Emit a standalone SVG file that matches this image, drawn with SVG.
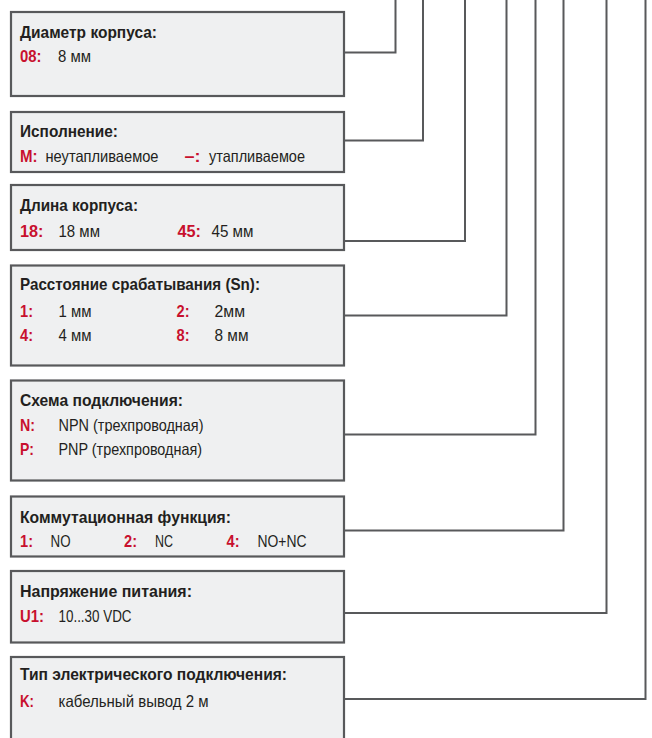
<svg xmlns="http://www.w3.org/2000/svg" width="652" height="738" viewBox="0 0 652 738">
<style>
.box{fill:#eff0f1;stroke:#58595b;stroke-width:2.2}
.con{fill:none;stroke:#58595b;stroke-width:2}
text{font-family:"Liberation Sans",Arial,sans-serif;font-size:16.5px}
.t{font-weight:bold;fill:#231f20}
.k{font-weight:bold;fill:#c8102e}
.v{fill:#231f20}
</style>
<rect width="652" height="738" fill="#ffffff"/>
<g id="connectors">
<polyline class="con" points="344,52.5 395.5,52.5 395.5,0"/>
<polyline class="con" points="344,140.5 423,140.5 423,0"/>
<polyline class="con" points="344,241 465,241 465,0"/>
<polyline class="con" points="344,315.5 506.5,315.5 506.5,0"/>
<polyline class="con" points="344,434.5 535.5,434.5 535.5,0"/>
<polyline class="con" points="344,530.5 563.5,530.5 563.5,0"/>
<polyline class="con" points="344,613 606.5,613 606.5,0"/>
<polyline class="con" points="344,699 645.5,699 645.5,0"/>
</g>
<g id="diameter">
<rect class="box" x="11" y="12" width="333" height="84"/>
<text class="t" x="20" y="37.5" textLength="137" lengthAdjust="spacingAndGlyphs">Диаметр корпуса:</text>
<text class="k" x="20" y="61.5" textLength="21.5" lengthAdjust="spacingAndGlyphs">08:</text>
<text class="v" x="58" y="61.5" textLength="33" lengthAdjust="spacingAndGlyphs">8 мм</text>
</g>
<g id="design">
<rect class="box" x="11" y="112" width="333" height="60"/>
<text class="t" x="20" y="136.5" textLength="98" lengthAdjust="spacingAndGlyphs">Исполнение:</text>
<text class="k" x="20" y="161.5" textLength="17.5" lengthAdjust="spacingAndGlyphs">M:</text>
<text class="v" x="45.5" y="161.5" textLength="113" lengthAdjust="spacingAndGlyphs">неутапливаемое</text>
<text class="k" x="184.5" y="161.5" textLength="16" lengthAdjust="spacingAndGlyphs">–:</text>
<text class="v" x="209" y="161.5" textLength="96" lengthAdjust="spacingAndGlyphs">утапливаемое</text>
</g>
<g id="length">
<rect class="box" x="11" y="185" width="333" height="65"/>
<text class="t" x="20" y="211" textLength="118" lengthAdjust="spacingAndGlyphs">Длина корпуса:</text>
<text class="k" x="20" y="236.5" textLength="23.5" lengthAdjust="spacingAndGlyphs">18:</text>
<text class="v" x="58.5" y="236.5" textLength="41.5" lengthAdjust="spacingAndGlyphs">18 мм</text>
<text class="k" x="177.5" y="236.5" textLength="23.5" lengthAdjust="spacingAndGlyphs">45:</text>
<text class="v" x="211.5" y="236.5" textLength="42" lengthAdjust="spacingAndGlyphs">45 мм</text>
</g>
<g id="distance">
<rect class="box" x="11" y="265.5" width="333" height="100"/>
<text class="t" x="20" y="290" textLength="240" lengthAdjust="spacingAndGlyphs">Расстояние срабатывания (Sn):</text>
<text class="k" x="20" y="316.5" textLength="13" lengthAdjust="spacingAndGlyphs">1:</text>
<text class="v" x="58.5" y="316.5" textLength="33" lengthAdjust="spacingAndGlyphs">1 мм</text>
<text class="k" x="176.5" y="316.5" textLength="13" lengthAdjust="spacingAndGlyphs">2:</text>
<text class="v" x="214.5" y="316.5" textLength="30.5" lengthAdjust="spacingAndGlyphs">2мм</text>
<text class="k" x="20" y="340.5" textLength="13" lengthAdjust="spacingAndGlyphs">4:</text>
<text class="v" x="58.5" y="340.5" textLength="33" lengthAdjust="spacingAndGlyphs">4 мм</text>
<text class="k" x="176.5" y="340.5" textLength="13" lengthAdjust="spacingAndGlyphs">8:</text>
<text class="v" x="214.5" y="340.5" textLength="34" lengthAdjust="spacingAndGlyphs">8 мм</text>
</g>
<g id="wiring">
<rect class="box" x="11" y="380.5" width="333" height="100"/>
<text class="t" x="20" y="406" textLength="163" lengthAdjust="spacingAndGlyphs">Схема подключения:</text>
<text class="k" x="20" y="431" textLength="15" lengthAdjust="spacingAndGlyphs">N:</text>
<text class="v" x="58.5" y="431" textLength="145" lengthAdjust="spacingAndGlyphs">NPN (трехпроводная)</text>
<text class="k" x="20" y="455" textLength="14" lengthAdjust="spacingAndGlyphs">P:</text>
<text class="v" x="58.5" y="455" textLength="143.5" lengthAdjust="spacingAndGlyphs">PNP (трехпроводная)</text>
</g>
<g id="switching">
<rect class="box" x="11" y="496.5" width="333" height="60"/>
<text class="t" x="20" y="522.5" textLength="211" lengthAdjust="spacingAndGlyphs">Коммутационная функция:</text>
<text class="k" x="20" y="546.5" textLength="13" lengthAdjust="spacingAndGlyphs">1:</text>
<text class="v" x="50.5" y="546.5" textLength="20" lengthAdjust="spacingAndGlyphs">NO</text>
<text class="k" x="124" y="546.5" textLength="13" lengthAdjust="spacingAndGlyphs">2:</text>
<text class="v" x="155" y="546.5" textLength="18" lengthAdjust="spacingAndGlyphs">NC</text>
<text class="k" x="226.5" y="546.5" textLength="13" lengthAdjust="spacingAndGlyphs">4:</text>
<text class="v" x="257.5" y="546.5" textLength="49" lengthAdjust="spacingAndGlyphs">NO+NC</text>
</g>
<g id="voltage">
<rect class="box" x="11" y="571" width="333" height="71.5"/>
<text class="t" x="20" y="596.5" textLength="172" lengthAdjust="spacingAndGlyphs">Напряжение питания:</text>
<text class="k" x="20" y="621.5" textLength="24" lengthAdjust="spacingAndGlyphs">U1:</text>
<text class="v" x="58.5" y="621.5" textLength="73" lengthAdjust="spacingAndGlyphs">10...30 VDC</text>
</g>
<g id="connection">
<rect class="box" x="11" y="657" width="333" height="100"/>
<text class="t" x="20" y="680" textLength="267" lengthAdjust="spacingAndGlyphs">Тип электрического подключения:</text>
<text class="k" x="20" y="706.5" textLength="14" lengthAdjust="spacingAndGlyphs">K:</text>
<text class="v" x="58.5" y="706.5" textLength="150" lengthAdjust="spacingAndGlyphs">кабельный вывод 2 м</text>
</g>
</svg>
